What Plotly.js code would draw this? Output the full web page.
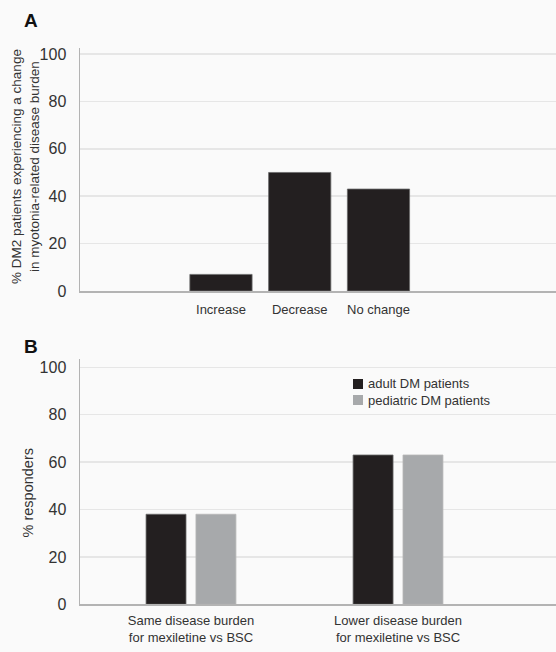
<!DOCTYPE html>
<html>
<head>
<meta charset="utf-8">
<script src="https://cdn.plot.ly/plotly-3.0.1.min.js"></script>
<style>html,body{margin:0;padding:0;background:#fafafa;}#chart{width:556px;height:652px;}</style>
</head>
<body>
<div id="chart"></div>
<script>
// ---- data ----
const catsA = ['Increase', 'Decrease', 'No change'];
const valsA = [7, 50, 43];
const catsB = ['Same disease burden<br>for mexiletine vs BSC', 'Lower disease burden<br>for mexiletine vs BSC'];
const adultB = [38, 63];
const pediatricB = [38, 63];
const seriesNames = ['adult DM patients', 'pediatric DM patients'];
const yTicks = [0, 20, 40, 60, 80, 100];
const titleA = '% DM2 patients experiencing a change<br>in myotonia-related disease burden';
const titleB = '% responders';
const panelLabels = ['A', 'B'];

// ---- style ----
const FONT = 'Liberation Sans, Arial, Helvetica, sans-serif';
const BLACK = '#231f20';
const GRAY = '#a7a9ab';
const TXT = '#333333';
const W = 556, H = 652, ML = 80;
const PW = W - ML;
const px2x = p => (p - ML) / PW;
const py2y = p => (H - p) / H;

const traces = [
  {type: 'bar', x: catsA, y: valsA, xaxis: 'x', yaxis: 'y', width: 0.79,
   marker: {color: BLACK, line: {color: '#6a6a6a', width: 0.8}}, showlegend: false},
  {type: 'bar', name: seriesNames[0], x: catsB, y: adultB, xaxis: 'x2', yaxis: 'y2',
   width: 0.193, offset: -0.217,
   marker: {color: BLACK, line: {color: '#6a6a6a', width: 0.8}}, showlegend: false},
  {type: 'bar', name: seriesNames[1], x: catsB, y: pediatricB, xaxis: 'x2', yaxis: 'y2',
   width: 0.193, offset: 0.024,
   marker: {color: GRAY, line: {color: '#b8b8b8', width: 0.8}}, showlegend: false}
];

const yCommon = {
  tickvals: yTicks, showline: true, linecolor: '#b3b3b3', linewidth: 1.5,
  showgrid: true, gridcolor: '#e6e6e6', gridwidth: 1.5, zeroline: false,
  ticks: '', ticklabelstandoff: 9, tickfont: {family: FONT, size: 16, color: TXT},
  fixedrange: true
};
const xCommon = {
  type: 'category', showline: true, linecolor: '#b3b3b3', linewidth: 1.5,
  showgrid: false, zeroline: false, ticks: '', domain: [0, 1],
  tickfont: {family: FONT, size: 13, color: TXT}, fixedrange: true
};

const legendColors = [BLACK, GRAY];
const shapes = seriesNames.map((n, i) => ({
  type: 'rect', xref: 'paper', yref: 'paper',
  x0: px2x(353), x1: px2x(363), y0: py2y(379 + i * 16), y1: py2y(389 + i * 16),
  fillcolor: legendColors[i], line: {width: 0}
}));
const annotations = seriesNames.map((n, i) => ({
  text: n, xref: 'paper', yref: 'paper', x: px2x(366), y: py2y(384 + i * 16),
  xanchor: 'left', yanchor: 'middle', showarrow: false,
  font: {family: FONT, size: 13, color: TXT}
})).concat(panelLabels.map((t, i) => ({
  text: '<b>' + t + '</b>', xref: 'paper', yref: 'paper',
  x: px2x(31), y: py2y(i === 0 ? 20 : 346), xanchor: 'center', yanchor: 'middle',
  showarrow: false, font: {family: FONT, size: 19, color: '#111'}
}))).concat([
  {text: titleA, xref: 'paper', yref: 'paper', x: px2x(26), y: py2y(167),
   xanchor: 'center', yanchor: 'middle', textangle: -90, showarrow: false,
   font: {family: FONT, size: 13.5, color: TXT}},
  {text: titleB, xref: 'paper', yref: 'paper', x: px2x(27.5), y: py2y(493),
   xanchor: 'center', yanchor: 'middle', textangle: -90, showarrow: false,
   font: {family: FONT, size: 14.5, color: TXT}}
]);

const layout = {
  width: W, height: H,
  margin: {l: ML, r: 0, t: 0, b: 0, pad: 0},
  paper_bgcolor: '#fafafa', plot_bgcolor: '#fafafa',
  font: {family: FONT, color: TXT},
  barmode: 'group',
  xaxis: Object.assign({}, xCommon, {anchor: 'y', range: [-1.79, 4.254], ticklabelstandoff: 6}),
  yaxis: Object.assign({}, yCommon, {anchor: 'x', domain: [py2y(291), py2y(48)], range: [0, 102.5]}),
  xaxis2: Object.assign({}, xCommon, {anchor: 'y2', range: [-0.536, 1.763], ticklabelstandoff: 4}),
  yaxis2: Object.assign({}, yCommon, {anchor: 'x2', domain: [py2y(604.3), py2y(359)], range: [0, 103.5]}),
  shapes: shapes,
  annotations: annotations
};

Plotly.newPlot('chart', traces, layout, {displayModeBar: false, staticPlot: true});
</script>
</body>
</html>
